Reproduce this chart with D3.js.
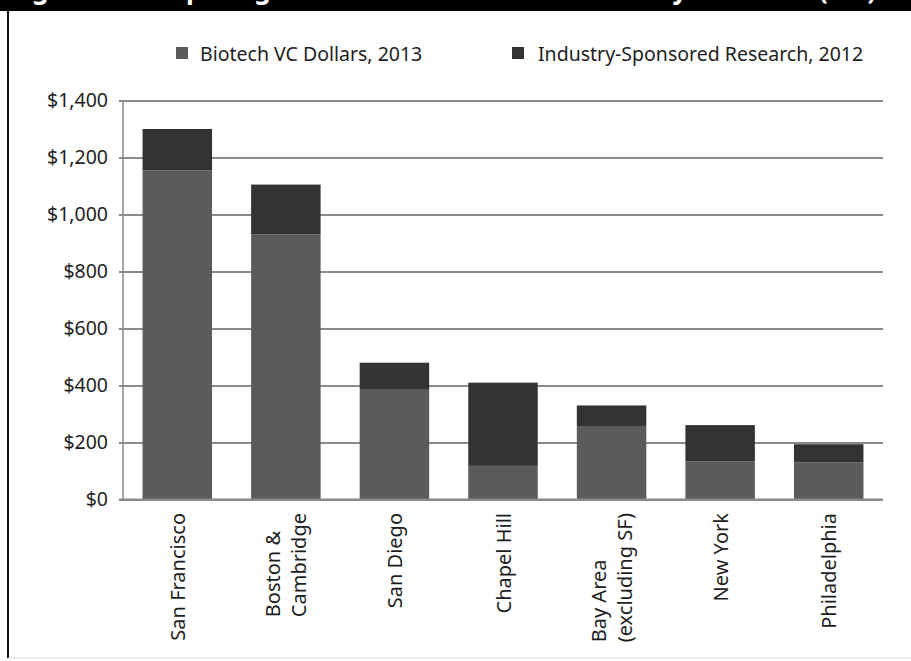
<!DOCTYPE html>
<html>
<head>
<meta charset="utf-8">
<script src="https://cdn.jsdelivr.net/npm/d3@7"></script>
<style>
  body { margin: 0; background: #fff; }
  text { font-family: "Noto Sans", "Open Sans", sans-serif; fill: #1e1e1e; }
</style>
</head>
<body>
<div id="chart"></div>
<script>
// data (millions of dollars)
var cities = ["San Francisco", "Boston &\nCambridge", "San Diego", "Chapel Hill",
              "Bay Area\n(excluding SF)", "New York", "Philadelphia"];
var vcDollars = [1155, 930, 385, 118, 258, 133, 130];
var research = [145, 175, 95, 292, 72, 128, 64];
var seriesNames = ["Biotech VC Dollars, 2013", "Industry-Sponsored Research, 2012"];
var yTicks = [0, 200, 400, 600, 800, 1000, 1200, 1400];
var title = "Figure 2. Comparing Biotech VC Dollars and Industry Research ($M)";

var w = 911;
var h = 661;
var colors = ["#5b5b5b", "#333333"];

var svg = d3.select("#chart")
            .append("svg")
            .attr("width", w)
            .attr("height", h);

// frame: black header strip (title mostly cropped off, as in the scan) + left rule
svg.append("clipPath").attr("id", "hdr")
   .append("rect").attr("x", 0).attr("y", 0).attr("width", w).attr("height", 11);
svg.append("rect").attr("x", 0).attr("y", 0).attr("width", w).attr("height", 11).attr("fill", "#000");
svg.append("text")
   .attr("x", 10).attr("y", -1)
   .style("font-size", "26px").style("font-weight", "bold")
   .style("fill", "#fff")
   .attr("clip-path", "url(#hdr)")
   .text(title);
svg.append("line").attr("x1", 8).attr("x2", 8).attr("y1", 11).attr("y2", 658)
   .attr("stroke", "#111").attr("stroke-width", 2);
svg.append("line").attr("x1", 8).attr("x2", w).attr("y1", 658).attr("y2", 658)
   .attr("stroke", "#ddd").attr("stroke-width", 1);

var x = d3.scaleBand()
          .domain(cities)
          .range([123, 883])
          .paddingInner(0.36)
          .paddingOuter(0.18);

var y = d3.scaleLinear()
          .domain([0, 1400])
          .range([499.5, 100.5]);

// gridlines + y axis
var yAxis = d3.axisLeft(y)
              .tickValues(yTicks)
              .tickSize(-(883 - 119))
              .tickFormat(function(d) { return "$" + d3.format(",")(d); });

var gy = svg.append("g")
            .attr("transform", "translate(119,0)")
            .call(yAxis);
gy.select(".domain").remove();
gy.selectAll(".tick line").attr("stroke", "#8a8a8a").attr("stroke-width", 2);
gy.selectAll(".tick text").style("font-size", "19.5px").attr("fill", "#1e1e1e").attr("x", -11);

// vertical axis line
svg.append("line").attr("x1", 123).attr("x2", 123).attr("y1", 100.5).attr("y2", 499.5)
   .attr("stroke", "#8a8a8a").attr("stroke-width", 1.5);

// stacked bars
var rows = cities.map(function(c, i) {
  return { city: c, vc: vcDollars[i], research: research[i] };
});
var stack = d3.stack().keys(["vc", "research"])(rows);

svg.append("g").selectAll("g")
   .data(stack)
   .enter()
   .append("g")
   .attr("fill", function(d, i) { return colors[i]; })
   .selectAll("rect")
   .data(function(d) { return d; })
   .enter()
   .append("rect")
   .attr("x", function(d) { return x(d.data.city); })
   .attr("y", function(d) { return y(d[1]); })
   .attr("width", x.bandwidth())
   .attr("height", function(d) { return y(d[0]) - y(d[1]); });

// baseline drawn over bars
svg.append("line").attr("x1", 119).attr("x2", 883).attr("y1", 499.5).attr("y2", 499.5)
   .attr("stroke", "#8a8a8a").attr("stroke-width", 2);

// category labels, rotated
var labelTop = 513;
var lineGap = 26;
cities.forEach(function(c) {
  var lines = c.split("\n");
  var cx = x(c) + x.bandwidth() / 2;
  var g = svg.append("g");
  var texts = lines.map(function(l) {
    return g.append("text")
            .style("font-size", "20px")
            .attr("fill", "#1e1e1e")
            .attr("dominant-baseline", "central")
            .text(l);
  });
  var maxLen = d3.max(texts, function(t) { return t.node().getComputedTextLength(); });
  var n = lines.length;
  texts.forEach(function(t, j) {
    var lx = cx + (j - (n - 1) / 2) * lineGap;
    if (n === 1) {
      t.attr("text-anchor", "end")
       .attr("transform", "translate(" + lx + "," + labelTop + ") rotate(-90)");
    } else {
      t.attr("text-anchor", "start")
       .attr("transform", "translate(" + lx + "," + (labelTop + maxLen) + ") rotate(-90)");
    }
  });
});

// legend
var legX = [176, 512];
var legText = [24, 26];
var leg = svg.append("g").selectAll("g")
   .data(seriesNames)
   .enter()
   .append("g")
   .attr("transform", function(d, i) { return "translate(" + legX[i] + ",47)"; });
leg.append("rect")
   .attr("width", 12).attr("height", 12)
   .attr("fill", function(d, i) { return colors[i]; });
leg.append("text")
   .attr("x", function(d, i) { return legText[i]; }).attr("y", 6)
   .attr("dominant-baseline", "central")
   .style("font-size", "19.5px")
   .attr("fill", "#1e1e1e")
   .text(function(d) { return d; });
</script>
</body>
</html>
